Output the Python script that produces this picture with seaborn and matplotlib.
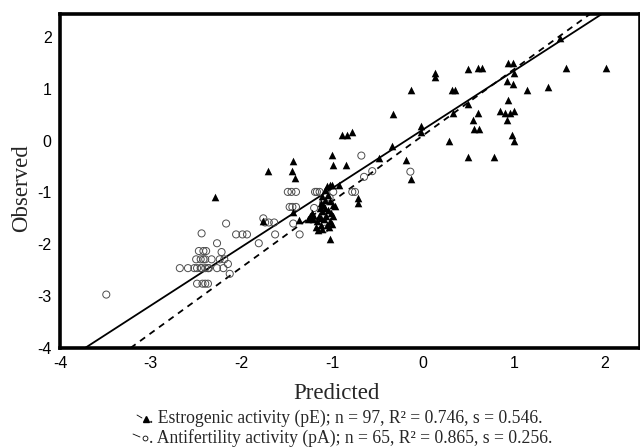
import matplotlib
matplotlib.use("Agg")
import matplotlib.pyplot as plt
from matplotlib.lines import Line2D
import seaborn as sns
import pandas as pd

# ---------------- data ----------------
# Estrogenic activity (pE) - filled triangles
tri_x = [0.13, 0.13, 0.50, 0.61, 0.65, 0.94, 0.99, 1.00, -0.13, 0.32,
         0.35, 0.92, 0.99, 1.15, 1.38, -0.33, 0.49, 0.33, 0.61, 0.94,
         0.85, 0.90, 0.96, 1.00, 0.93, 0.55, 0.56, 0.62, -0.02, -0.02,
         0.98, 1.00, 0.29, -0.34, -0.19, 0.49, 0.78, 1.57, 2.02, 1.51,
         -0.89, -0.84, -0.78, -1.00, -0.99, -0.85, -0.49, -0.13, -0.72, -0.72,
         -1.43, -1.44, -1.41, -2.29, -1.71, -1.76, -1.03, -1.16, -1.25, -1.21,
         -1.37, -1.43, -0.93, -1.00,
         -1.06, -1.03, -1.11, -1.08, -1.10, -1.08, -1.11, -1.03, -0.99, -0.97,
         -1.05, -1.01, -0.99, -1.22, -1.25, -1.21, -1.27, -1.15, -1.17, -1.13,
         -1.18, -1.11, -1.06, -1.04, -1.09, -1.13, -1.07, -1.12, -1.05, -1.08,
         -1.02, -1.00, -1.14]
tri_y = [1.31, 1.22, 1.37, 1.39, 1.39, 1.50, 1.50, 1.30, 0.97, 0.97,
         0.97, 1.14, 1.09, 0.97, 1.03, 0.51, 0.70, 0.53, 0.53, 0.78,
         0.57, 0.53, 0.53, 0.57, 0.40, 0.40, 0.23, 0.23, 0.29, 0.17,
         0.10, 0.00, 0.00, -0.11, -0.38, -0.31, -0.31, 1.39, 1.39, 1.98,
         0.10, 0.10, 0.17, -0.27, -0.48, -0.48, -0.33, -0.74, -1.10, -1.20,
         -0.40, -0.59, -0.72, -1.09, -0.59, -1.55, -1.90, -1.73, -1.49, -1.43,
         -1.54, -1.37, -0.86, -0.86,
         -0.88, -0.86, -1.07, -1.14, -1.24, -1.30, -1.35, -1.16, -1.24, -1.26,
         -1.33, -1.39, -1.45, -1.39, -1.45, -1.52, -1.52, -1.45, -1.56, -1.62,
         -1.66, -1.70, -1.62, -1.66, -1.52, -1.50, -1.45, -1.20, -1.05, -0.96,
         -1.55, -1.60, -1.30]

# Antifertility activity (pA) - open circles
circ_x = [-3.49, -2.68, -2.59, -2.49, -2.45, -2.40, -2.36, -2.27, -2.50, -2.42,
          -2.47, -2.42, -2.39, -2.44, -2.49, -2.40, -2.37, -2.27, -2.17, -2.22,
          -2.24, -2.19, -2.15, -2.13, -2.06, -1.94, -1.81, -1.76, -1.70, -1.64,
          -1.63, -1.43, -1.36, -1.47, -1.40, -1.49, -1.40, -1.19, -1.14, -0.99,
          -0.78, -0.75, -0.65, -0.56, -0.68, -0.14, -2.45, -2.37, -2.44, -2.40,
          -2.43, -2.20, -1.99, -1.74, -1.10, -1.05, -1.15, -1.08, -1.20, -1.03,
          -2.33, -2.52, -1.45, -1.17, -1.44]
circ_y = [-2.97, -2.46, -2.46, -2.46, -2.46, -2.46, -2.46, -2.46, -2.29, -2.29,
          -2.13, -2.13, -2.13, -1.79, -2.76, -2.76, -2.76, -1.98, -1.60, -2.15,
          -2.29, -2.29, -2.38, -2.57, -1.81, -1.81, -1.98, -1.50, -1.58, -1.58,
          -1.81, -1.60, -1.81, -1.28, -1.28, -0.99, -0.99, -0.99, -0.99, -0.99,
          -0.99, -0.99, -0.70, -0.59, -0.29, -0.60, -2.29, -2.46, -2.46, -2.29,
          -2.76, -2.46, -1.81, -1.58, -1.20, -1.40, -1.55, -1.70, -1.30, -1.10,
          -2.29, -2.46, -0.99, -0.99, -1.28]

# fitted lines (slope, intercept)
line_slopes = [1.131, 1.272]
line_intercepts = [0.212, 0.100]
line_styles = ["-", "--"]

tick_values = [-4, -3, -2, -1, 0, 1, 2]
x_label = "Predicted"
y_label = "Observed"
legend_lines = [
    ". Estrogenic activity (pE); n = 97, R\u00b2 = 0.746, s = 0.546.",
    ". Antifertility activity (pA); n = 65, R\u00b2 = 0.865, s = 0.256.",
]

# ---------------- style ----------------
sns.set_style("white")
plt.rcParams["font.family"] = ["Liberation Sans", "DejaVu Sans"]
plt.rcParams["axes.unicode_minus"] = False

W, H = 640, 448
fig = plt.figure(figsize=(W / 100, H / 100), dpi=100)
ax = fig.add_axes([60 / W, 1 - 348 / H, 580 / W, 334 / H])

df_c = pd.DataFrame({"x": circ_x, "y": circ_y})
df_t = pd.DataFrame({"x": tri_x, "y": tri_y})

sns.scatterplot(data=df_c, x="x", y="y", marker="o", s=26,
                facecolors="none", edgecolors="0.3", linewidth=0.7,
                ax=ax, zorder=3)
sns.scatterplot(data=df_t, x="x", y="y", marker="^", s=30,
                color="black", linewidth=0, ax=ax, zorder=4)

for m, b, ls in zip(line_slopes, line_intercepts, line_styles):
    kw = dict(color="black", lw=1.3, linestyle=ls, zorder=2)
    if ls == "--":
        kw["dashes"] = (3.5, 3)
    ax.axline((0, b), slope=m, **kw)

ax.set_xlim(-4, 2.39)
ax.set_ylim(-4, 2.44)
ax.set_xticks(tick_values)
ax.set_yticks(tick_values)
ax.set_xticklabels([str(v) for v in tick_values])
ax.set_yticklabels([str(v) for v in tick_values])
ax.tick_params(length=0, pad=6, labelsize=11.5, colors="black")
ax.set_xlabel("")
ax.set_ylabel("")
for sp in ax.spines.values():
    sp.set_visible(True)
    sp.set_color("black")
    sp.set_linewidth(2.6)

serif = ["Liberation Serif", "DejaVu Serif"]
fig.text(22 / W, 1 - 188 / H, y_label, rotation=90, ha="center", va="center",
         fontsize=16.5, family=serif)
fig.text(336 / W, 1 - 393 / H, x_label, ha="center", va="center",
         fontsize=16.5, family=serif)

# legend lines with tiny symbol icons
fig.add_artist(Line2D([137 / W, 142 / W], [1 - 415 / H, 1 - 418 / H],
                      color="black", lw=0.6))
fig.add_artist(Line2D([146 / W], [1 - 419 / H], marker="^", markersize=4,
                      color="black", lw=0))
fig.text(149 / W, 1 - 418 / H, legend_lines[0], ha="left", va="center",
         fontsize=12.7, family=serif)
fig.add_artist(Line2D([133 / W, 140 / W], [1 - 434 / H, 1 - 437 / H],
                      color="black", lw=0.6))
fig.add_artist(Line2D([145 / W], [1 - 438 / H], marker="o", markersize=3.5,
                      markerfacecolor="none", markeredgecolor="black",
                      markeredgewidth=0.6, lw=0))
fig.text(149 / W, 1 - 438 / H, legend_lines[1], ha="left", va="center",
         fontsize=12.7, family=serif)

fig.savefig("out.png", dpi=100)
